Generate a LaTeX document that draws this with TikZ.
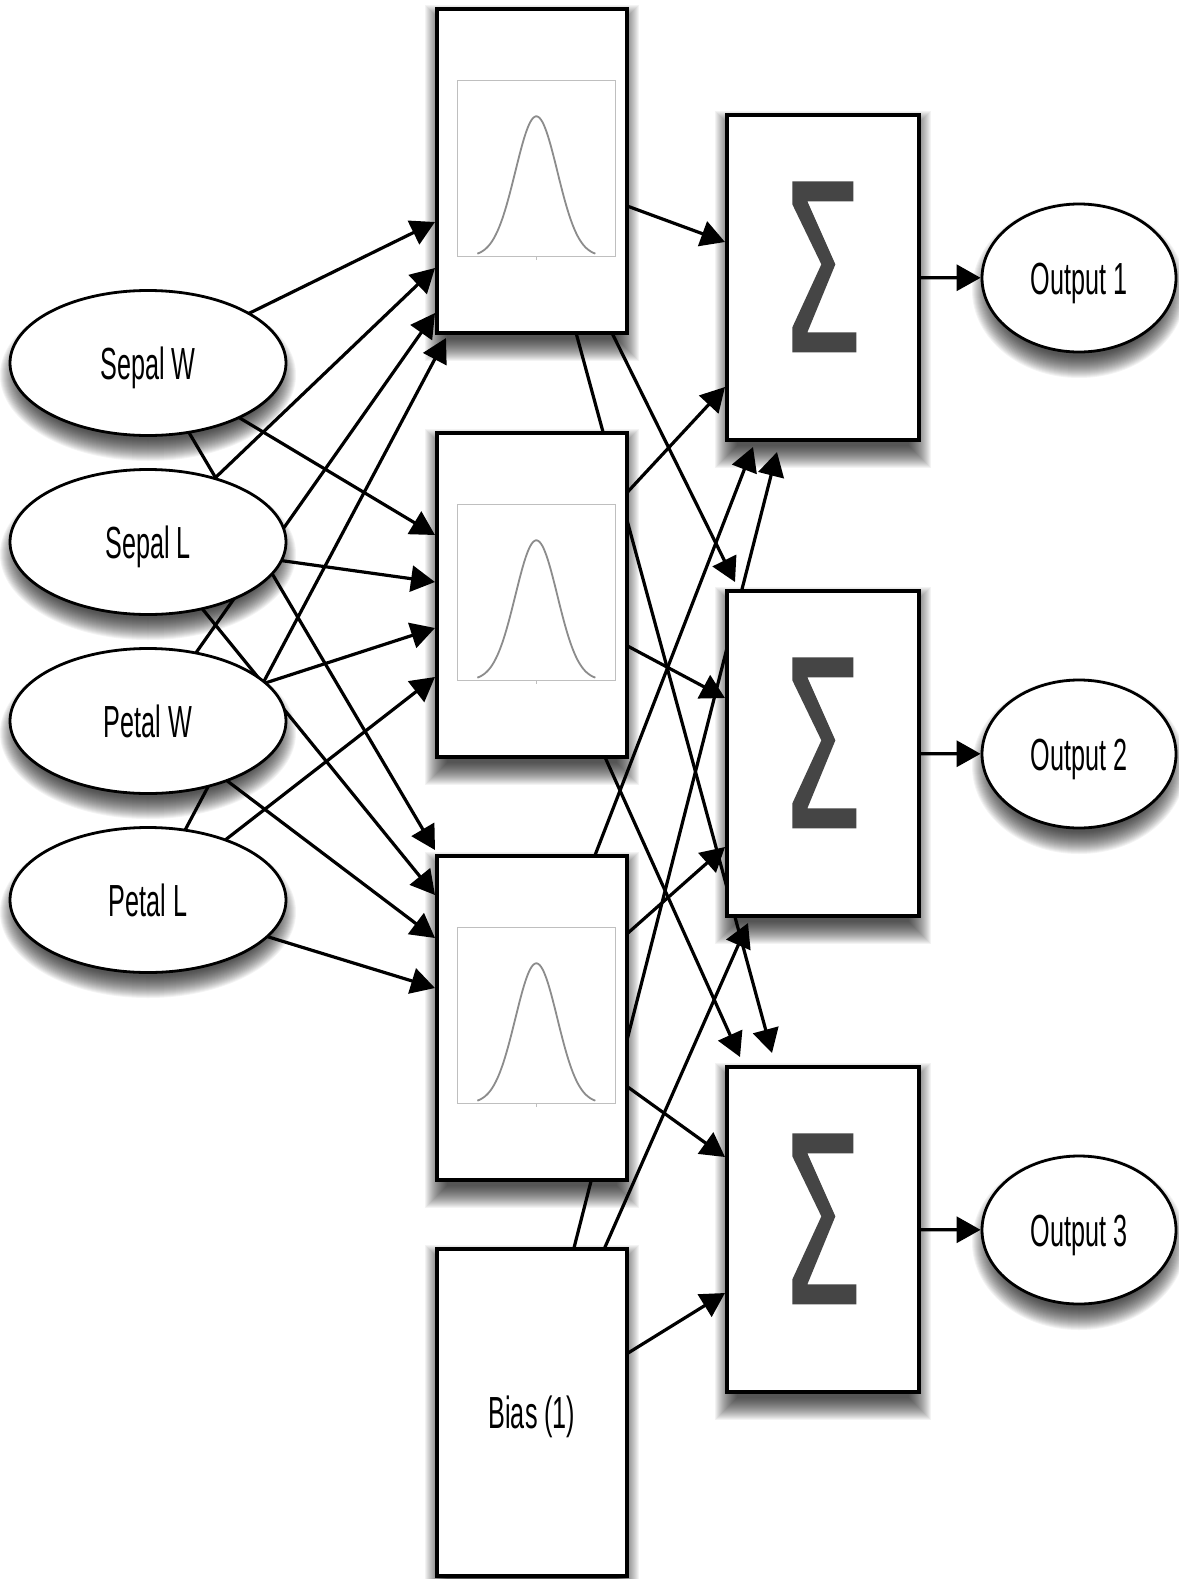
\documentclass[tikz,border=0pt]{standalone}
\usepackage{fontspec}
\newfontfamily\labelfont{Liberation Sans}[FakeStretch=0.56]
\usetikzlibrary{arrows.meta,shapes.geometric,calc}
\pgfdeclarelayer{wires}
\pgfdeclarelayer{shadows}
\pgfsetlayers{wires,shadows,main}

\tikzset{
  labeltext/.style={font=\labelfont\fontsize{45}{52}\selectfont,
      text height=32pt, text depth=0pt},
  inbox/.style={ellipse, draw, line width=2.8pt, fill=white,
      minimum width=276pt, minimum height=145pt, inner sep=0pt, labeltext},
  outbox/.style={inbox, minimum width=194pt, minimum height=148pt},
  gaussbox/.style={rectangle, draw, line width=3.3pt, fill=white,
      minimum width=190pt, minimum height=324pt, inner sep=0pt},
  sumbox/.style={gaussbox, minimum width=192pt, minimum height=325pt},
  plotframe/.style={draw=black!25, line width=1.2pt},
  bell/.style={draw=black!45, line width=1.8pt},
  wire/.style={line width=3.2pt, -{Triangle[length=24pt,width=26pt]}},
  shadowlayer/.style={fill=black, opacity=0.048},
}

\begin{document}
\begin{tikzpicture}[x=1pt, y=-1pt]
\useasboundingbox (0,0) rectangle (1178,1579);

% input features
\node[inbox] (SW) at (148,363) {Sepal W};
\node[inbox] (SL) at (148,542) {Sepal L};
\node[inbox] (PW) at (148,721) {Petal W};
\node[inbox] (PL) at (148,900) {Petal L};

% pattern (gaussian) units and bias
\node[gaussbox] (G1) at (532,171) {};
\node[gaussbox] (G2) at (532,595) {};
\node[gaussbox] (G3) at (532,1018) {};
\node[gaussbox, minimum height=327pt, labeltext] (B) at (532,1412.5) {Bias (1)};

% summation units
\node[sumbox] (S1) at (823,277.5) {};
\node[sumbox] (S2) at (823,753.5) {};
\node[sumbox] (S3) at (823,1229.5) {};

% outputs
\node[outbox] (O1) at (1079,278) {Output 1};
\node[outbox] (O2) at (1079,754) {Output 2};
\node[outbox] (O3) at (1079,1230) {Output 3};

% soft drop shadows, built from stacked translucent shapes
\begin{pgfonlayer}{shadows}
  \foreach \n in {G1,G2,G3,B,S1,S2,S3} {
    \foreach \e in {-8,...,14} {
      \path[shadowlayer] ($(\n.south west)+(4-\e,12+\e)$)
        rectangle ($(\n.north east)+(-4+\e,12-\e)$);
    }
  }
  \foreach \n in {SW,SL,PW,PL} {
    \foreach \e in {-8,...,14} {
      \path[shadowlayer] ($(\n.center)+(0,12)$)
        ellipse [x radius={134+\e}, y radius={72+\e}];
    }
  }
  \foreach \n in {O1,O2,O3} {
    \foreach \e in {-8,...,14} {
      \path[shadowlayer] ($(\n.center)+(0,12)$)
        ellipse [x radius={93+\e}, y radius={74+\e}];
    }
  }
\end{pgfonlayer}

% bell curve inside each pattern unit
\foreach \g in {G1,G2,G3} {
  \begin{scope}[shift={(\g.north west)}]
    \draw[plotframe] (22,73) rectangle (180,249);
    \draw[plotframe] (101,249) -- (101,253);
    \draw[bell] plot[domain=-59:59, samples=90]
      ({101+\x}, {249-140*exp(-0.5*(\x/21)*(\x/21))});
  \end{scope}
}

% sigma glyph inside each summation unit
\foreach \s in {S1,S2,S3} {
  \fill[black!73, shift={(\s.north west)}]
    (67,68) -- (128,68) -- (128,88) -- (82,88) -- (110,151) -- (82,219)
    -- (131,219) -- (131,239) -- (67,239) -- (67,214) -- (96,151)
    -- (67,91) -- cycle;
}

% arrow end points on the receiving units
\coordinate (tG1a) at (435,222);
\coordinate (tG1b) at (435,268);
\coordinate (tG1c) at (435,313);
\coordinate (tG1d) at (446,338);
\coordinate (tG2a) at (435,535);
\coordinate (tG2b) at (435,582);
\coordinate (tG2c) at (435,628);
\coordinate (tG2d) at (435,677);
\coordinate (tG3a) at (435,850);
\coordinate (tG3b) at (435,895);
\coordinate (tG3c) at (435,938);
\coordinate (tG3d) at (435,988);

\coordinate (tS1a) at (725,242);
\coordinate (tS1b) at (725,387);
\coordinate (tS1c) at (753,447);
\coordinate (tS1d) at (777,452);
\coordinate (tS2a) at (735,582);
\coordinate (tS2b) at (725,698);
\coordinate (tS2c) at (725,847);
\coordinate (tS2d) at (748,923);
\coordinate (tS3a) at (772,1053);
\coordinate (tS3b) at (740,1057);
\coordinate (tS3c) at (725,1157);
\coordinate (tS3d) at (725,1293);

\begin{pgfonlayer}{wires}
  % features to pattern units
  \draw[wire] (SW.center) -- (tG1a);
  \draw[wire] (SL.center) -- (tG1b);
  \draw[wire] (PW.center) -- (tG1c);
  \draw[wire] (PL.center) -- (tG1d);
  \draw[wire] (SW.center) -- (tG2a);
  \draw[wire] (SL.center) -- (tG2b);
  \draw[wire] (PW.center) -- (tG2c);
  \draw[wire] (PL.center) -- (tG2d);
  \draw[wire] (SW.center) -- (tG3a);
  \draw[wire] (SL.center) -- (tG3b);
  \draw[wire] (PW.center) -- (tG3c);
  \draw[wire] (PL.center) -- (tG3d);
  % pattern units and bias to summation units
  \draw[wire] (G1.center) -- (tS1a);
  \draw[wire] (G2.center) -- (tS1b);
  \draw[wire] (G3.center) -- (tS1c);
  \draw[wire] (B.center)  -- (tS1d);
  \draw[wire] (G1.center) -- (tS2a);
  \draw[wire] (G2.center) -- (tS2b);
  \draw[wire] (G3.center) -- (tS2c);
  \draw[wire] (B.center)  -- (tS2d);
  \draw[wire] (G1.center) -- (tS3a);
  \draw[wire] (G2.center) -- (tS3b);
  \draw[wire] (G3.center) -- (tS3c);
  \draw[wire] (B.center)  -- (tS3d);
  % summation units to outputs
  \draw[wire] (S1) -- (O1);
  \draw[wire] (S2) -- (O2);
  \draw[wire] (S3) -- (O3);
\end{pgfonlayer}
\end{tikzpicture}
\end{document}
